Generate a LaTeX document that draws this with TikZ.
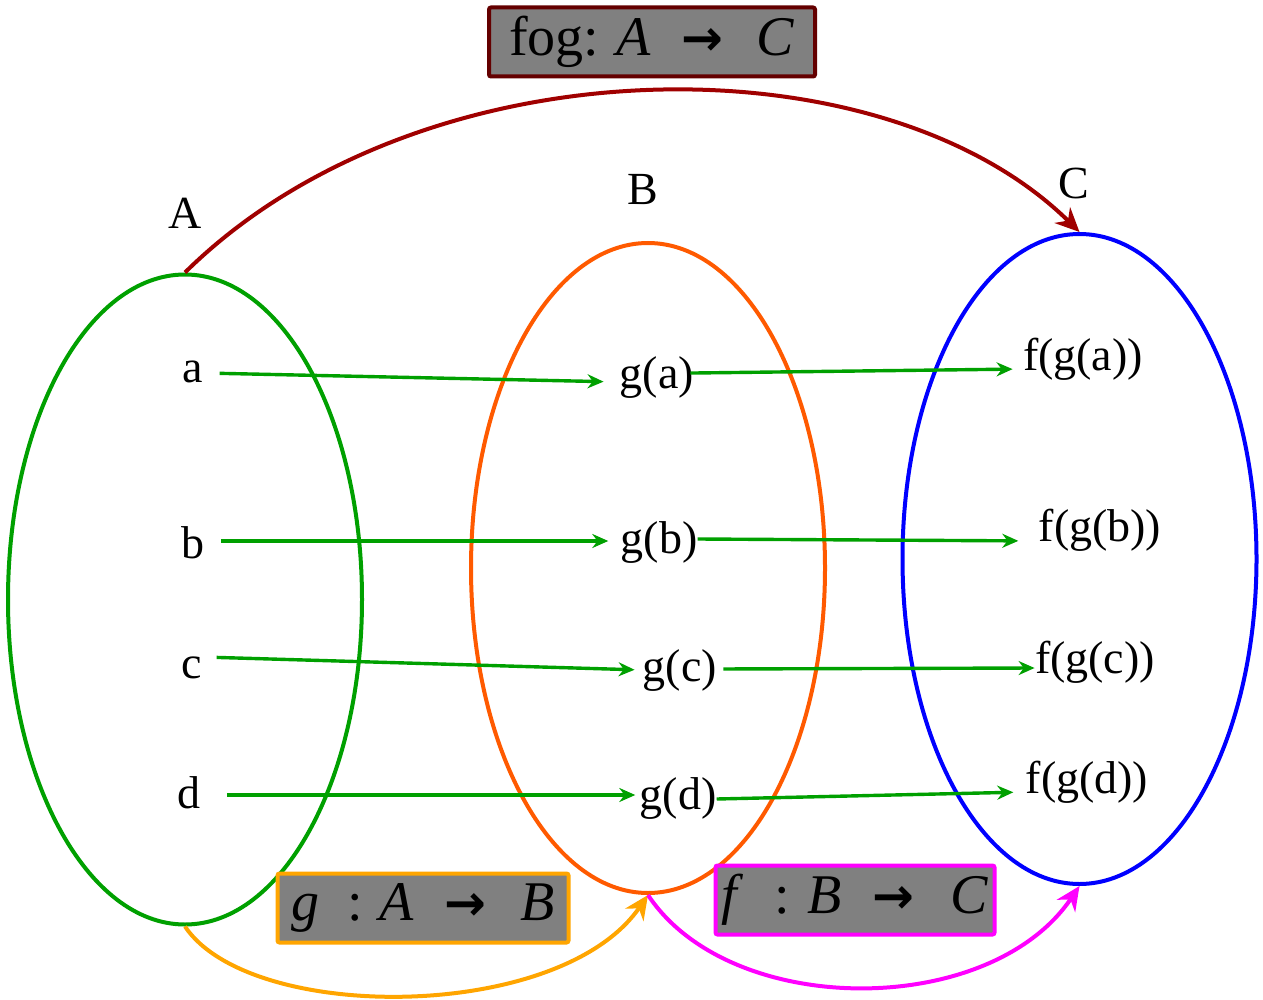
\documentclass[tikz,border=0pt]{standalone}
\usepackage{fontspec}
\setmainfont{Liberation Serif}
\newfontfamily\arrowfont{DejaVu Sans}
\usepackage{tikz}
\usetikzlibrary{positioning, arrows.meta, shapes.geometric}
\definecolor{MapGreen}{HTML}{00A000}
\definecolor{SetOrange}{HTML}{FF5A00}
\definecolor{SetBlue}{HTML}{0000FF}
\definecolor{CompRed}{HTML}{A00000}
\definecolor{CompDark}{HTML}{640000}
\definecolor{GOrange}{HTML}{FFA500}
\definecolor{FMagenta}{HTML}{FF00FF}
\definecolor{BoxGray}{HTML}{808080}

\newcommand{\mapto}{{\arrowfont\bfseries\fontsize{25}{30}\selectfont →}}

\tikzset{
  setoval/.style={ellipse, draw, line width=2pt, minimum width=177pt, minimum height=325pt},
  setname/.style={font=\fontsize{23}{27}\selectfont},
  elem/.style={inner xsep=0pt, inner ysep=0pt, text height=0.72em, text depth=0.22em,
               font=\fontsize{23}{27}\selectfont},
  maparrow/.style={draw=MapGreen, line width=1.7pt, -{Stealth[length=8pt,width=7pt]}},
  funbox/.style={fill=BoxGray, line width=2pt, rounded corners=1pt, minimum height=34.5pt,
                 inner xsep=0pt, font=\fontsize{28}{32}\selectfont},
  bigarrow/.style={line width=2pt, -{Stealth[length=12pt,width=11pt]}}
}

\begin{document}
\begin{tikzpicture}[x=0.5pt, y=-0.5pt]
  \useasboundingbox (0,0) rectangle (1263,1000);

  \node[setoval, draw=MapGreen] (setA) at (185,599.5) {};
  \node[setoval, draw=SetOrange] (setB) at (648,568) {};
  \node[setoval, draw=SetBlue] (setC) at (1079.5,559) {};

  \node[setname] (nameA) at (185,213) {A};
  \node[setname] (nameB) at (643,190) {B};
  \node[setname] (nameC) at (1074,183) {C};

  \node[elem] (a) at (193,377) {a};
  \node[elem] (b) at (193,553) {b};
  \node[elem] (c) at (192,673) {c};
  \node[elem] (d) at (189,803) {d};

  \node[elem] (ga) at (657,383) {g(a)};
  \node[elem] (gb) at (659,548) {g(b)};
  \node[elem] (gc) at (680,676) {g(c)};
  \node[elem] (gd) at (678,804) {g(d)};

  \node[elem] (fga) at (1083,365) {f(g(a))};
  \node[elem] (fgb) at (1100,536) {f(g(b))};
  \node[elem] (fgc) at (1095,668) {f(g(c))};
  \node[elem] (fgd) at (1087,788) {f(g(d))};

  \draw[maparrow, shorten <=8pt, shorten >=8pt] ([yshift=2pt]a.east) -- ([yshift=0.5pt]ga.west);
  \draw[maparrow, shorten <=8pt, shorten >=6pt] ([yshift=6pt]b.east) -- ([yshift=3.5pt]gb.west);
  \draw[maparrow, shorten <=7pt, shorten >=4pt] ([yshift=8pt]c.east) -- ([yshift=3pt]gc.west);
  \draw[maparrow, shorten <=13pt, shorten >=2pt] ([yshift=4pt]d.east) -- ([yshift=4.5pt]gd.west);

  \draw[maparrow, shorten <=-2pt, shorten >=5pt] ([yshift=5pt]ga.east) -- ([yshift=-2pt]fga.west);
  \draw[maparrow, shorten >=10pt] ([yshift=4.5pt]gb.east) -- ([yshift=-2.5pt]fgb.west);
  \draw[maparrow, shorten <=3pt] ([yshift=3.5pt]gc.east) -- (fgc.west);
  \draw[maparrow, shorten >=6pt] ([yshift=2.5pt]gd.east) -- ([yshift=-2pt]fgd.west);

  \draw[bigarrow, CompRed] (setA.north) .. controls +(235,-232) and +(-200,-197) .. (setC.north);
  \draw[bigarrow, GOrange] (setA.south) .. controls +(65,97) and +(-88,128) .. (setB.south);
  \draw[bigarrow, FMagenta] (setB.south) .. controls +(82,124) and +(-90,133) .. (setC.south);

  \node[funbox, draw=CompDark, minimum width=163pt] (fogbox) at (652,42)
    {fog:\hspace{0.3em}\textit{A}\hspace{0.55em}\mapto\hspace{0.6em}\textit{C}};
  \node[funbox, draw=GOrange, minimum width=145.5pt] (gbox) at (423,908)
    {\textit{g}\hspace{0.5em}:\hspace{0.3em}\textit{A}\hspace{0.55em}\mapto\hspace{0.6em}\textit{B}};
  \node[funbox, draw=FMagenta, minimum width=139.5pt] (fbox) at (855,900)
    {\textit{f}\hspace{0.55em}:\hspace{0.3em}\textit{B}\hspace{0.55em}\mapto\hspace{0.65em}\textit{C}};
\end{tikzpicture}
\end{document}
